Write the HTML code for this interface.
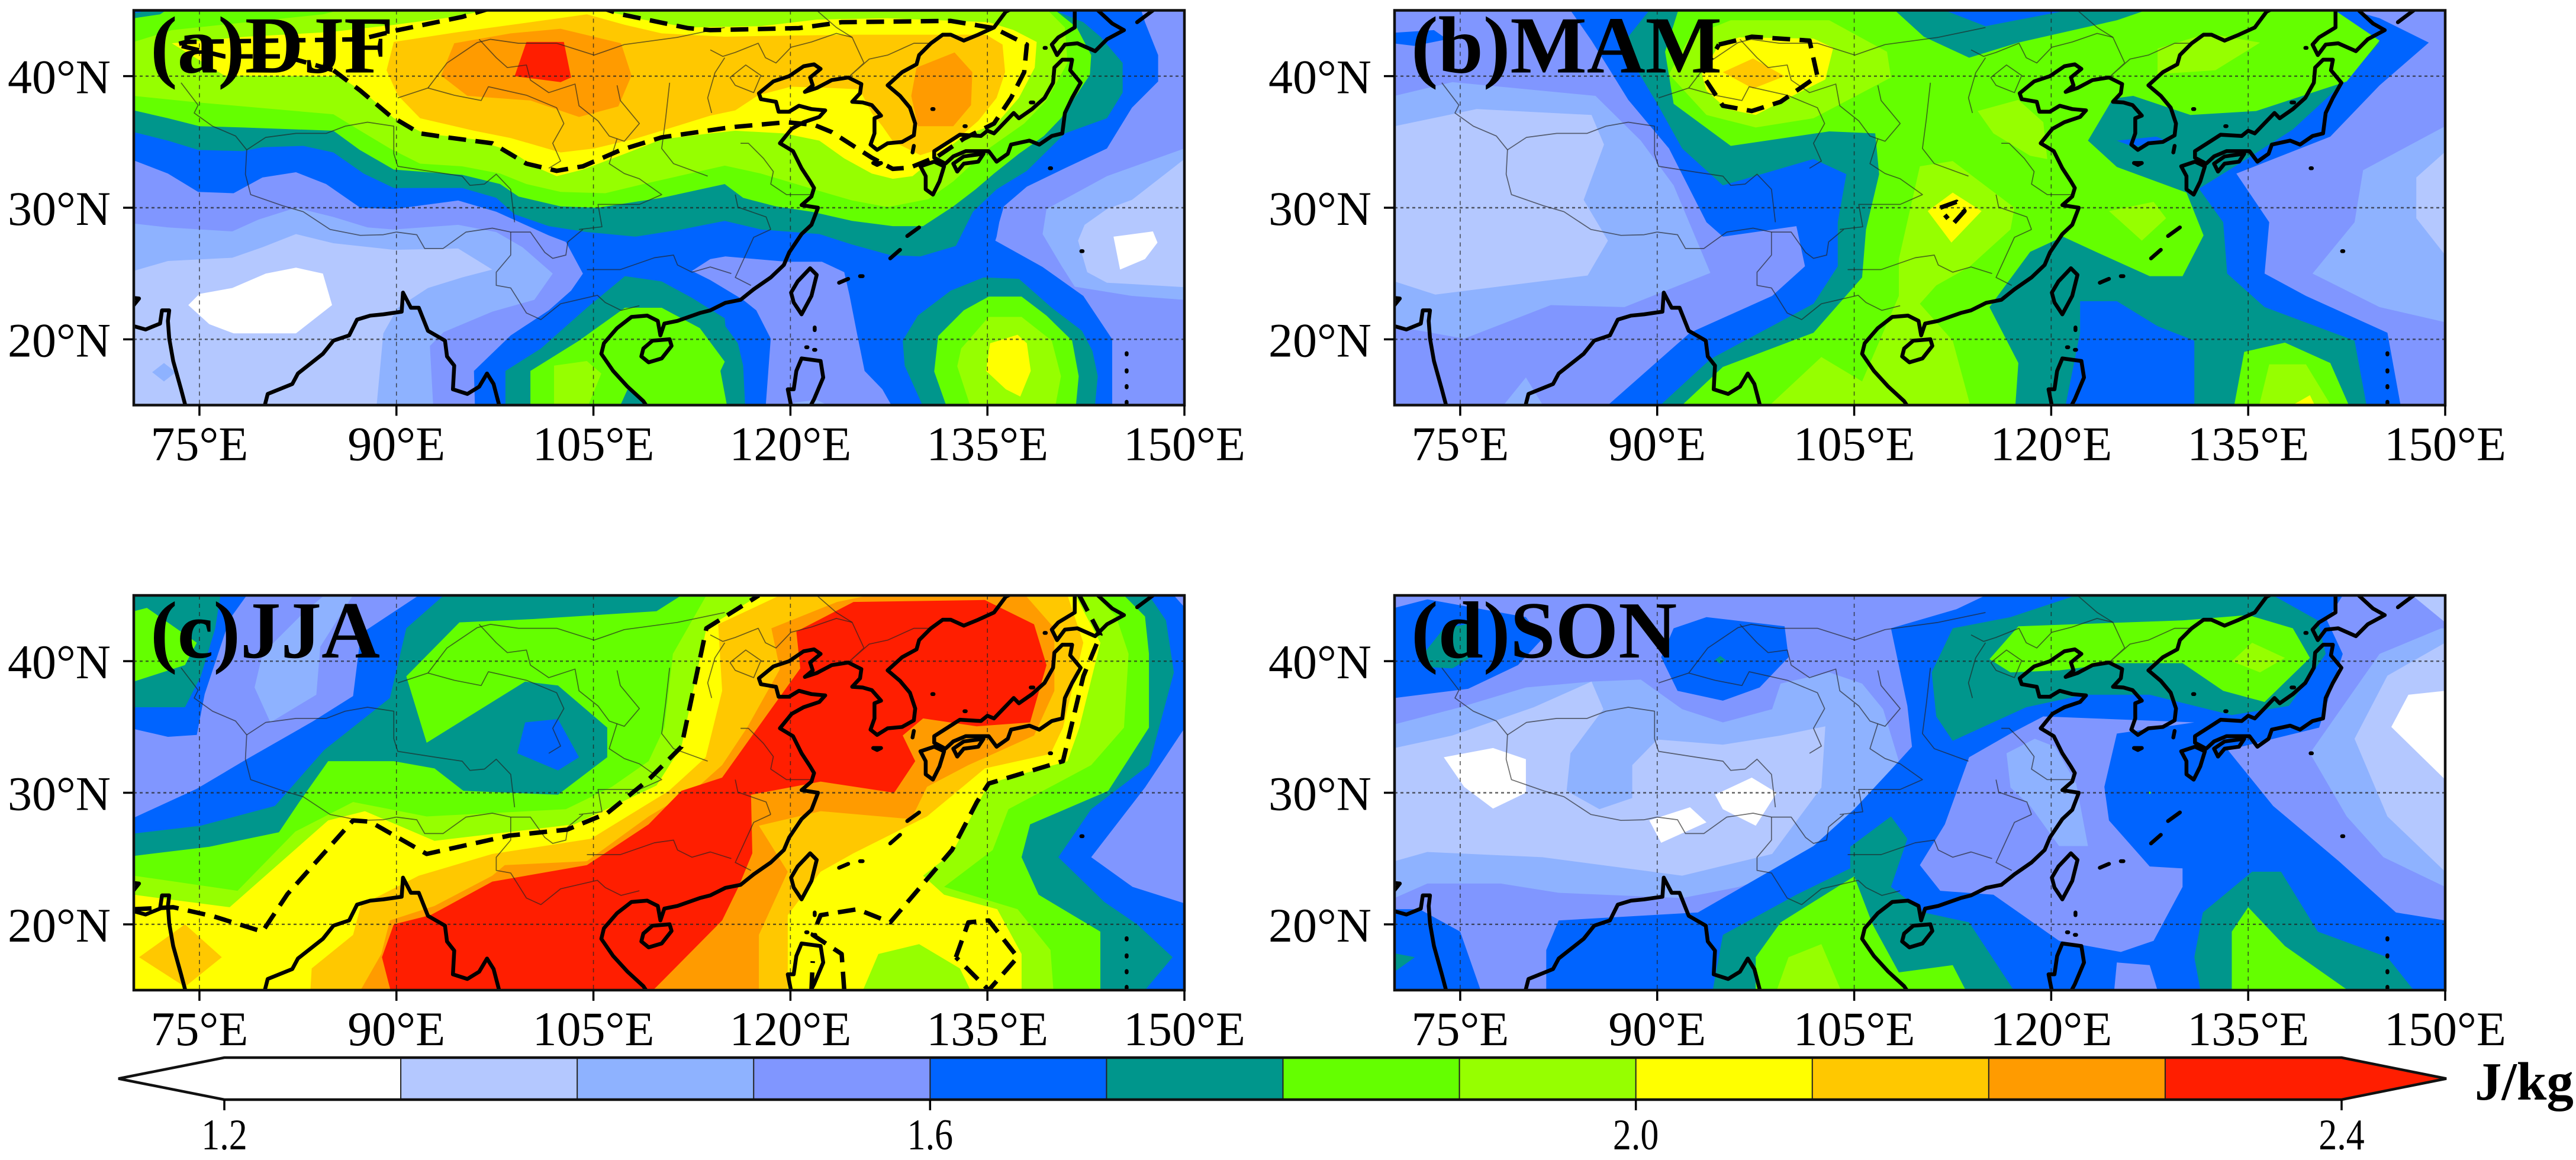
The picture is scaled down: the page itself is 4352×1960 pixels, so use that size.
<!DOCTYPE html>
<html lang="en">
<head>
<meta charset="utf-8">
<title>Seasonal J/kg maps</title>
<style>
html,body{margin:0;padding:0;background:#fff;}
svg{display:block;}
text{font-family:"Liberation Serif",serif;fill:#000;}
</style>
</head>
<body>
<svg id="figure" xmlns="http://www.w3.org/2000/svg" width="4352" height="1960" viewBox="0 0 4352 1960"></svg>
<script>
/* ---------- colour scale ---------- */
const levels = [1.2,1.3,1.4,1.5,1.6,1.7,1.8,1.9,2.0,2.1,2.2,2.3,2.4];
const bandColors = ['#ffffff','#b4c8ff','#8eb2ff','#8096ff','#0064ff','#00968c','#64ff00','#96ff00','#ffff00','#ffc800','#ff9b00','#ff1e00'];
const colorbarTicks = [1.2,1.6,2.0,2.4];
const lonTicks = [75,90,105,120,135,150];
const latTicks = [20,30,40];

/* ---------- shared geography, [lon,lat,...] ---------- */
const coastlines = [
 [137,45.2,136.4,44.9,135.5,43.7,134.3,43.15,133.2,42.7,132.2,43.15,131.6,43.15,130.7,42.5,129.8,41.6,129.6,40.9,128.5,40.3,127.4,39.3,128.35,38.5,129.1,37.6,129.5,36.4,129.4,35.5,128.5,35,127.4,34.9,126.6,34.4,126.1,34.8,126.4,35.65,126.4,36.8,126.9,37,126.2,37.8,125.5,38,124.7,38.05,125.3,38.7,125.4,39.4,124.4,39.9,123.15,39.7,122,39.1,121.1,38.8,121.7,39.3,121.5,39.9,122.3,40.55,121.8,40.9,121,40.75,119.9,40,118.7,39.6,117.6,38.7,117.75,38.25,118.9,38.05,119.1,37.3,119.9,37.3,120.65,37.75,121.6,37.5,122.65,37.4,122.2,36.9,121,36.5,120.1,36,119.2,34.9,120.2,34.3,120.85,33,121.5,32,121.8,31.5,121.6,30.85,120.85,30.2,122.1,30,121.6,28.7,120.85,28,119.9,26.6,119.5,25.65,118.5,24.7,117.2,23.8,116.2,23,115.05,22.77,113.9,22.2,113.1,22,111.4,21.4,110.4,21.2,110.1,20.3,109.9,21.4,109.1,21.8,107.9,21.7,106.8,20.85,105.8,19.7,105.6,18.9,106.5,17.6,107.6,16.4,108.8,15.3,109.2,14.7],
 [108.8,19.3,109.5,19.9,110.8,20,110.95,19.5,110.2,18.55,109.2,18.25,108.65,18.7,108.8,19.3],
 [69.5,23.2,70.4,23.1,70,22.6],
 [69.5,21,70,21,70.9,20.75,72,21.2,72.15,22.2,72.7,22.2,72.6,21.4,72.7,20.07,73,18.35,73.6,16.2,74,14.7],
 [79.9,14.7,80.2,15.85,82.07,16.6,82.5,17.4,84.4,18.9,85.2,19.9,86.4,20.3,87,21.5,88,21.8,89,21.9,90.4,22.1,90.5,23.55,91.1,22.4,91.7,22.4,92.4,20.65,93.7,19.9,93.85,18.7,94.4,18,94.3,16.2,95.4,15.85,96.3,16.4,96.9,17.4,97.4,16.6,97.9,14.7],
 [121.5,25.4,122,24.9,121.6,23.3,120.85,21.9,120.25,22.8,120.05,23.55,120.55,24.4,121.5,25.4],
 [120.1,14.7,119.8,16.2,120.25,16.2,120.45,17.6,120.85,18.55,122.3,18.35,122.5,17.1,121.8,15.45,121.4,14.7],
 [129.9,33.15,130.95,33.5,131.7,33.15,131.35,32,130.85,31,130.3,31.4,130.3,32.4,129.9,33.15],
 [130.95,34.3,132.2,35.1,132.9,35.55,134.5,35.45,135,35.85,135.5,35.65,137,37.2,137.4,36.8,138.4,37.5,139.35,38.35,140,39.5,140.1,40.65,140.7,41.25,141.45,41.25,141.3,40.45,142.1,39.5,141.45,38.35,140.9,37.2,140.7,35.65,139.9,35.45,138.95,34.8,138.2,35.1,136.8,34.8,136.55,34.1,135.7,33.5,135.1,34.3,133.35,34.3,132.4,33.9,131.8,33.35,130.95,33.8,130.95,34.3],
 [132.4,33.35,133.2,33.9,134.7,34.1,134.3,33.5,133.2,33.35,132.7,32.75,132.4,33.35],
 [141.65,45.2,141.65,43.7,140.4,42.95,139.9,42.4,140.3,41.6,140.9,42.4,141.85,42.5,143.2,41.9,144.1,42.8,145.4,43.5,144.5,44,143.2,45.2],
 [146.4,44.1,147.6,45],
 [127.6,26.15,128.35,26.8],[128.9,27.85,129.8,28.5],[123.7,24.3,124.4,24.6],[125.3,24.8,125.5,24.8],
 [126.3,33.4,126.9,33.4,126.6,33.25,126.3,33.4],[129.3,34.2,129.4,34.7],
 [130.8,37.5,130.9,37.5],[133.25,36.2,133.35,36.2],[138.3,38,138.5,38],[139.75,33,139.85,33],[142.15,26.7,142.25,26.7],[139.35,42.15,139.45,42.15],
 [121.85,20.9,121.85,20.7],[121.2,19.4,121.3,19.4],[121.8,19.2,121.9,19.2],
 [145.6,18.95,145.6,18.85],[145.6,17.65,145.6,17.55],[145.6,16.45,145.6,16.35],[145.6,15.25,145.6,15.15]
];
const provinceBorders = [
 [73.6,39.5,74.9,37.8,74.6,37.2,76,36.2,77.75,35.45,78.6,34.4,78.5,32.55,78.9,31,81.35,30.15,82.9,29.7,84.95,28.35,87.25,27.9,89,27.95,90,28.15,91.55,27.95,92.15,26.9,93.55,26.9,95.3,28.15,97.3,28.45,98.7,28.15,100.2,28.15,101.3,26.6,101.9,26.15,102.9,26.4,103.05,27.4,104.2,28.35],
 [78.6,34.4,80.05,35.35,82.35,35.65,84.65,35.65,86.1,36.2,87.8,36.5,89.8,36.2,89.8,34.1,90.1,33.15,93,32.7,95,32.4,95.6,31.7,96.7,31.8,97.6,32.55,98.7,31.4,99,28.9],
 [98.7,28.15,98.7,26.4,97.6,25.1,97.6,24.1,98.7,23.9,99.3,22.95,99.9,22,101,21.5,102.5,22.7,105.3,23.35,105.9,22.8,107.1,22.2,108.5,22.55],
 [90.1,38.35,92.4,39.1,93.85,41,96.15,42.55,97.15,42.8,99.3,42.5,102.2,42.5,105.05,41.6,107.35,42.4,111.4,42.95,115,43.7],
 [113.9,42,114.85,41.5,115.8,41.8,117.55,42.5,118.1,41.4,118.9,41,120.05,42.2,121.6,42.6,123.5,43.25,124.7,42.95,125.6,41,124.4,39.9,126,41.3,127.4,41.6,129.4,42.5,130.7,42.5],
 [122,45,123.5,43.7,124.7,42.95],
 [92.4,39.1,94.4,38.55,96.45,38.15,97,39.2,99.9,38.55,102.2,37.6,102.75,36.4,101.9,34.9,102.5,33.55,101.6,33],
 [96.3,42.8,97.6,41.4,98.45,40.65,99.9,40.85,100.2,39.7,101.6,38.75,103.6,39.4,103.9,37.75,105.35,36.6,106.2,35.45,107.35,35.05,108.5,36.4,107.05,38.15,106.8,39.3],
 [106.8,35.25,106.2,33.35,107.35,32.6,108.5,32.2,110.2,31,108.5,30.25,105.35,30.25,105.65,28.55,103.9,28.35],
 [110.8,39.5,110.5,36.8,110.2,34.5,111.1,33.35,113.7,32.4],
 [114,37.2,113.7,38.35,114.25,40.25,115,41.4],
 [104.5,25.3,107.05,25.3,109.65,26.2,111.1,26.4,111.4,25.65,112.5,25.1,113.9,25.5,115.5,25],
 [118.5,28.35,117.2,27.75,116.4,26,115.8,24.7,117,24.1],
 [115.8,31,116,30.05,118.15,29.3,118.5,28.35],
 [116.2,34.9,116.8,34.9,117.95,33.75,118.7,32.75,118.5,31.8,119.7,31,121.6,31],
 [115.4,39.9,116.6,40.85,117.75,40.05,117.2,38.75,115.8,39.3,115.4,39.9]
];

/* ---------- (a) DJF contour regions: [band, [lon,lat,...]] painted in order ---------- */
const djfContours = [
 [1,[69,14,151,14,151,46,69,46]],
 [2,[69,25,70,25.2,72.6,25.95,77.5,26.2,79.8,27,82.35,28,85.2,27.3,89.8,26.8,94.7,26.9,97.3,25.3,95,24.7,92.4,23.9,90.1,22.4,89,20.45,88.4,14,151,14,151,46,69,46]],
 [2,[71.4,17.5,72.3,18.2,73.2,17.5,72.3,16.8]],
 [3,[69,28.9,70,28.8,72.6,28.5,77.5,28.2,79.5,29.1,82.35,30,85.2,29.3,87.8,28.5,89.8,28.35,94.7,28.7,97.6,28.15,99.6,27,101.9,25,100.5,23,97.3,22.1,93.6,20.55,92.55,19.5,92.85,14,151,14,151,46,69,46]],
 [2,[151,35,150,34.5,144.1,32.4,139.5,29.9,139.2,28,140.6,25.65,141.65,24,146,23.3,150,23,151,23]],
 [1,[151,34,150,33.7,146,30.6,144.1,29.9,142.4,28.7,141.9,27.5,142.6,25.1,144.1,24.3,146,24.2,151,23.9]],
 [0,[144.6,27.8,147.6,28.2,147.95,27.35,147,26.1,145.1,25.3]],
 [0,[74.15,22.6,75,23.45,77.5,23.9,80.05,25,82.35,25.45,84.4,25,85.1,22.6,82.35,20.45,77.6,20.45,75.75,21.15]],
 [4,[69,33.8,70,33.6,72.6,32.6,74.9,31.2,77.6,31.1,79.8,32.3,82.35,32.7,84.65,31.8,87.25,30,89.8,29.9,94.7,30.55,97.6,29.7,101.6,27.9,102.9,27.4,104.2,25,103.3,23.7,101.6,22.2,98.7,20.3,95.9,17.6,96,14,144.5,14,144.5,20,142.3,23.3,139.2,25.5,135.6,27.5,135.7,27.8,135.9,28.9,136.25,30.1,138,31.6,140.9,33,144.1,34.5,146,37.6,148,39.6,148,41.6,147,44.1,146.4,46,69,46]],
 [3,[112.5,25.2,113.9,26.1,115.05,26.3,119.7,25.9,122.4,25.9,124.1,25.1,124.5,23.35,125.1,20.3,125.65,17.6,127,16.2,128.25,14,118.05,14,118.5,20.05,117.4,22.2,116.4,23,113.9,24.5]],
 [2,[120.2,14,120.3,15.2,122,15.4,122.8,15,123,14]],
 [5,[69,35.75,70,35.75,72.6,35.1,74.9,34.4,78.3,34.3,79.8,34.6,82.9,34.7,85.2,34.2,87.5,32.6,89.8,31.5,95,31.5,97.6,30.75,99,29.5,101.6,28.6,104.5,28.15,108.2,27.8,111.7,28.35,115,29,117.75,28.35,122.2,28,124.7,27.2,127.6,26.4,129.9,26.3,132.6,27.1,133.9,29.7,135.7,31.4,138,32.8,140.9,35.65,144.1,36.8,145.3,38.75,145.3,41,143.6,43,142.3,44.1,140.1,45,140,46,69,46]],
 [5,[98.3,14,98.3,17.6,101,19.3,104.5,22.4,107.4,24.8,110.2,24.4,112.5,23.15,115,21.6,115.05,21,116,19.7,116.4,18,116.6,14]],
 [5,[128.55,19.9,129.7,21.8,132.2,23.7,134.7,24.7,137.4,24.6,139.9,22.4,142.2,20.65,143,19.1,143.4,17.2,143.1,14,130.5,14,128.7,18]],
 [6,[69,37.4,70,37.4,72.6,36.8,75,36.2,78.3,36.1,85.2,35.85,87.2,34.4,89.8,32.9,95,32.5,97.9,31.8,99.3,30.85,102.5,30.1,105.3,30,108.2,30.45,110.2,30.75,115,31.8,116.4,30.75,118.9,30.1,121.6,29.7,124.7,29,127.8,28.6,130.1,28.6,132.4,30.1,134.1,31.4,135.5,32.6,137.4,34.1,139.3,35.45,140.6,36.8,142.8,40.1,142.9,41.6,141.8,43.7,140.3,44.9,139.8,45.5,139,46,69,46]],
 [5,[69,46,74,46,72,44.7,70,44.4,69,44.4]],
 [4,[69,46,72,46,70.5,44.85,69,44.7]],
 [6,[100.2,14,100.2,17.6,103.9,19.9,107.4,22.4,110.2,22.4,113.1,20.85,115,18.3,114.67,17.6,115.35,14]],
 [5,[106.6,14,107.6,16.2,109.1,15,109.5,14]],
 [7,[102,14,102,18,104.5,18.35,105.6,17.4,104.2,14]],
 [6,[130.95,17.55,131.25,20.25,133.2,22.2,135.1,23.25,137.6,23.25,139.5,21.8,141.45,19.9,141.95,17.2,141.65,14,132.2,14]],
 [7,[132.7,17.95,133,19.3,135.1,21.7,137.6,21.7,139.9,19.9,140.6,17.2,140,14,134,14]],
 [8,[134.9,17.6,135.2,19.7,137.3,20.35,138,19.7,138.3,17.6,137.5,15.65,136.4,16.2]],
 [7,[69,38.7,70,38.5,74.9,38,82.9,37.3,85.2,37.1,87.25,35.85,89.5,34.5,91.8,33.35,95,33.15,97.9,32.6,99.9,31.8,102.5,31.2,105.9,31.1,108.8,31.8,115,33.2,117.75,32.6,121.6,31.45,124.7,30.55,127.4,30.05,130.5,30.65,132.4,32,135.1,34.5,137.8,36.4,139.5,38.15,141.1,41,140.9,43.7,139.7,44.9,138.9,45.6,86,45.6,86,45.1,84.4,44.7,78.6,44.1,72.9,43.5,70,42.6,69,42.4]],
 [8,[72.9,42.5,78.6,43,84.9,43.35,89.8,43.9,94.4,44.5,97.3,45.1,105.3,45.1,108.8,44.3,112.2,43.7,117.75,43.8,122,44.3,127.4,44.4,135.1,44.1,137,43.5,138.75,42.6,138.6,40.65,137.4,38.35,135.7,36.4,133.2,35.45,131,33.8,129.3,32.4,127.8,32.2,126.2,32.6,124.1,33.75,122.2,35.1,119.5,35.65,115.8,35.85,113.9,35.65,110.2,35.2,107.4,34.1,104.2,32.9,102.2,32.4,100.5,33.15,98.7,34.3,95.9,35.2,92.1,35.65,89.8,36.8,87.8,38.55,85.5,40.1,84.9,40,76.9,40.05]],
 [9,[89.25,40.45,89.8,42.6,94.7,43.35,100.2,44.1,104.5,44.7,107.4,43.9,110.2,43.25,115,43,117.75,43.05,124.9,43.15,129.3,43.15,134.9,43.15,136.15,42.4,136.35,40.3,135.7,38.35,134.3,36.6,133.2,35.65,130.85,34.3,129.9,34,127.8,35.05,127,36.2,126.2,37.2,125.25,39,123.15,39.1,120.05,39.2,117.55,38.55,115.8,37.4,113.9,37,110.2,35.85,108.2,35.25,105.05,34.5,102.5,34.2,98.7,35.3,95.9,35.85,91.8,36.8,90.1,38.55]],
 [10,[93.4,40.05,94.4,42.5,98.7,43.25,102.5,43.6,107.1,42.5,107.9,40.05,106.9,37.7,103.9,36.9,100.2,38.15,95.4,38.5]],
 [10,[129.2,38.5,129.6,40.65,132.5,41.8,133.85,40.3,133.75,37.8,132.4,36.2,129.7,36.2]],
 [11,[99.9,42.6,102.75,42.6,103.3,39.9,102.5,39.55,99,40]]
];
const djfSignificance = [
 [85.2,40.45,87.25,38.9,89.5,37,91.8,35.65,93.85,35.35,97.3,34.9,99.9,33.35,102.2,32.8,104.2,33.15,107.1,34.4,110.2,35.35,115,36.05,115.8,36.15,119.7,36.5,121.8,36.3,123.15,35.75,126.2,33.8,127.8,32.95,129.1,33.05,131.2,33.9,133.2,35.25,135.5,36.4,136.8,38.35,137.8,40.3,138,42.4,135.5,43.65,132.2,44.2,123.9,44.1,120.65,43.65,113.9,43.5,112.2,43.65,107.1,44.7,105.6,45.2],
 [97.3,45.2,95,44.5,90.1,43.5,87.25,42.8,74,42.6,73.2,42.4,76.9,41.5,81.5,41.5,85.2,40.45]
];

/* ---------- (b) MAM ---------- */
const mamContours = [
 [3,[69,14,151,14,151,46,69,46]],
 [2,[69,38.3,70,38.5,74.4,39.55,85.3,38.5,88.75,35.1,91.25,31.7,94.05,25.05,87.5,22.45,81.9,22.6,75.3,20.05,70,21,69,21.2]],
 [1,[69,35.9,70,36.2,76.25,37.5,85,37.05,85.95,34.8,84.4,30.6,86.25,27.5,84.7,24.85,73.1,23.4,70,24.4,69,24.6]],
 [2,[77.5,14,80,17.1,81.9,14]],
 [2,[151,36.2,150,36.2,143.75,32.85,143.1,28.9,139.9,25,145,22.45,150,21.3,151,21.1]],
 [1,[151,34.25,150,34.25,147.8,32.3,147.8,29.2,150,26.4,151,26.4]],
 [4,[83.4,46,83.4,45,85,42.7,87.8,38.2,90.9,34.5,93.75,28.9,95,27.8,100.6,28.6,101.25,25.55,98.75,23.3,92.5,20.5,86.25,15,85.8,14,147,14,146.6,15,145.6,20.5,139.4,23.3,136.25,25,136.6,28.9,134.1,32.6,141.25,35.4,145,39.3,148.75,42.55,145,44.4,142.2,45.2,142,46]],
 [4,[69,43.2,70,43.3,73,43.5,74,42.8,71.5,42.3,69,42.6]],
 [5,[89.7,14.5,94.05,18.5,101.9,22.7,103.75,25.55,103.75,28.9,104.4,32.55,101.9,33.7,95,31.7,91.9,34.5,90,37.9,87.5,42.1,87.8,43,89.4,45,89.4,46,141,46,139.4,45,141.9,44.4,145,42.55,142.2,39.45,138.4,35.95,134.4,33.4,131.25,31.45,133.1,28.9,133.4,25,136.25,22.45,143.1,19.9,144.1,14.5]],
 [4,[111.9,46,111.9,45,115,43.8,121.25,45,121.25,46]],
 [4,[122.2,22.9,125,22.9,128.1,21,130.9,19.9,130.9,14,120.9,14,122.2,20.5]],
 [4,[125,35.1,128,35.4,129,35,126.2,34.65]],
 [6,[91.9,14,91.9,15,95,17.9,101.9,20.5,105.6,24.7,105.9,28.35,106.9,32.55,106.6,35.65,103.1,35.8,95.6,34.7,91.25,37.9,90.6,41.85,91.6,45,91.6,46,108.1,46,108.1,45,110.3,43,113.75,41.4,117.5,42.55,125,44.25,127.2,45,127.2,46,141.6,46,141.6,45,145,42.7,142.5,39.6,135.6,37.35,130.6,37.05,126.25,38.5,124.7,38.3,122.8,35.1,125,33.1,130.3,31.15,131.6,27.9,130,24.8,127.5,24.8,123.4,26.65,120.9,27.8,118.4,26.65,115.3,22.45,117.5,18.2,117.2,14]],
 [6,[133.75,14,134.7,19.05,137.8,19.75,141.25,18.2,143.1,14]],
 [7,[90.9,40.15,92.5,43,95.6,44.25,103.1,44.25,107.5,41.85,107.8,39.9,101.9,36.8,97.5,36.1,93.75,37.05]],
 [7,[108.4,26.1,110,33.15,112.5,33.55,117.2,30,116.9,28.35,113.75,25.5,111.25,24.1,110,22.7,112.5,19.9,114.1,14,97.5,14,102.5,18.65,105.6,16.8,108.4,23.3]],
 [7,[114.4,37.35,117.5,38.2,119.4,36.5,119.7,33.7,118.4,33.95,115.6,35.65]],
 [7,[128.1,42.1,131.9,43.25,135.9,42.55,132.5,40.45,128.1,40.15]],
 [7,[124.4,29.75,127.8,30.45,128.75,29.2,126.9,27.5]],
 [7,[135.6,14,136.6,18.1,139.4,18.1,141.9,14]],
 [8,[93.4,40.15,94.7,42.4,96.25,42.95,101.9,42.85,103.4,42.15,102.8,39.75,100.3,38.5,97.5,37.05,95.3,37.5,93.75,38.9]],
 [9,[95,40.3,97.3,41.35,99.7,40,97.3,39.05]],
 [8,[110.6,29.75,112.5,31.15,114.7,29.75,112.4,27.35]],
 [8,[137.5,14.5,139.7,15.75,140.3,14.5]]
];
const mamSignificance = [
 [94.7,42.4,97.2,43,101.6,42.7,102.2,40,99.4,38.05,97.2,37.35,95,37.75,93.4,40.15,94.7,42.4],
 [111.55,30,112.8,30.45,113.4,29.75,112.5,28.75,111.9,29.45]
];

/* ---------- (c) JJA ---------- */
const jjaContours = [
 [4,[69,14,151,14,151,46,69,46]],
 [3,[69,34.7,70,34.85,72.6,34.25,74.8,34.4,75.4,37.5,77.3,43.2,78.6,45,78.6,46,91.7,46,91.7,45,87.3,42.1,86.7,37.35,83.6,35.4,78.6,32.55,74.8,30.3,70,28.1,69,27.9]],
 [2,[84.5,45.5,84.5,45,82.9,43.65,79.8,40.55,79.2,38,80.4,35.35,83.9,37.45,84.2,41.1,87,45.5]],
 [3,[151,34.9,150,34.9,147,30.4,142.9,25.1,146.05,22.85,150,21.6,151,21.3]],
 [3,[149.2,46,149.2,45,150,44.1,151,44.1,151,46]],
 [5,[69,36.5,70,36.5,73.9,36.5,75.1,38.85,76.2,42.5,76.6,45,76.6,46,69,46]],
 [6,[69,43.6,70,43.8,71,44.05,74.8,41.4,73.9,39.7,70,38.45,69,38.2]],
 [5,[69,26.7,70,26.9,75.1,27.5,80.75,29,84.5,33.25,89.5,37.2,90.75,42.5,93.6,45,93.6,46,147.3,46,147.3,45,148.6,43.1,149.2,39.15,147.3,32.1,142.9,28.75,140.4,25.1,143.9,21.7,146.4,20,149.1,17.5,147,15,146.5,14,69,14]],
 [4,[99.2,33,99.8,35.35,102.3,35.6,103.9,32.7,102.3,31.7]],
 [6,[69,25,70,25.2,75.75,25.9,81.05,27,82.6,29.3,84.8,32.4,89.8,32.4,92.9,31.85,95.1,30.15,102.3,29.85,106.05,32.7,106.05,34.95,102.3,38.15,99.8,38.45,92.3,33.8,90.75,38.85,94.8,42.95,100.4,43.2,109.8,43.8,111.7,45,111.7,46,145.4,46,145.4,45,147,43.4,147.3,40.55,147.3,34.95,144.2,30.15,138.25,27.6,137.6,25.1,138.9,22.25,143.6,19.45,143.6,14,69,14]],
 [7,[69,23.9,70,23.7,77.9,22.55,82.3,27.05,86.7,29.3,92.3,28.2,102.9,28.75,106.4,30.45,109.2,32.4,110.4,34.95,111.05,40.55,113.6,45,113.6,46,143.2,46,143.2,45,144.8,43.4,145.75,40.55,145.4,34.95,142.9,32.1,136.6,28.75,135.4,25.65,131.7,22.85,137.3,21.15,139.8,18.05,140.1,14,69,14]],
 [8,[69,22.4,70,22.25,77.3,21.3,84.8,27.9,87.6,28.6,92.9,26.35,103.55,27.6,109.8,30.55,111.7,33.5,113.6,42.5,117.6,45,117.6,46,141.7,46,141.7,45,143.6,41.4,142,34.95,141.1,32.4,135.1,30.7,132.3,25.4,130.1,23.7,131.7,22.25,135.75,21.15,137.6,17.75,137.6,14,69,14]],
 [7,[125.1,14,126.7,17.75,129.8,18.5,132.9,16.65,134.2,14]],
 [9,[70.4,17.5,73.9,20,76.7,17.5,73.9,15.25]],
 [9,[83.45,14,83.45,15,83.55,16.65,86.7,19.2,87.3,21.45,91.7,23.7,97.3,25.35,104.8,26.5,110.75,30.15,113.55,32.7,114.8,37.75,114.5,42.8,119.2,45,119.2,46,141.1,46,141.1,45,142.3,41.4,140.75,34.95,139.8,32.95,134.8,31.85,130.4,28.2,124.8,25.4,122.3,24,119.8,20.7,119.8,14]],
 [10,[86.7,14,88.85,17.75,89.5,20.3,92.9,21.4,97.3,23.7,98.25,24.5,104.5,24.8,109.2,28.2,112.95,30.45,114.8,32.1,116.7,34.95,119.2,39.4,118.55,42.5,123.55,44.5,126,45,126,46,137.9,46,137.9,45,140.1,42.5,140.1,37.75,138.55,34.35,133.55,32.1,130.4,30.45,129.2,28,122.3,28.6,117.6,27.5,119.8,24,117.6,19.2,117.6,14]],
 [11,[89.8,14,88.9,17.5,89.8,20,92.6,20.7,97.3,23.25,104.5,24.5,109.2,27.6,111.7,30.15,114.8,31.15,117.3,34.65,120.75,39.45,120.45,42.25,124.8,44.5,134.8,44.65,138.55,42.8,139.5,39.7,138.25,35.35,134.2,35.05,130.1,35.65,128.55,34.35,129.5,32.4,127.9,30,122.3,30.85,117,29.85,117.1,25.4,116.05,22.85,114.8,20.3,109.8,15.25,108.5,14]]
];
const jjaSignificance = [
 [70,21.15,73,21.3,76.1,20.6,79.8,19.45,81.7,22.3,86.7,27.9,88,27.8,92.3,25.35,98.6,26.75,103,27.2,106.05,28.45,109.2,31,111.7,33.5,113.6,42.5,117.6,45],
 [142,45,143.6,42,142.3,38.85,140.75,32.4,135.1,30.7,134.2,29.3,132.3,25.65,127.6,20.15,125.1,21.15,122.3,20.7,121.7,19.2,123.9,17.75,124.1,15],
 [132.6,17.5,133.55,20.15,135.1,20.3,137.3,17.5,135.1,15,132.6,17.5],
 [121.6,15,121.7,17.2]
];

/* ---------- (d) SON ---------- */
const sonContours = [
 [3,[69,14,151,14,151,46,69,46]],
 [2,[69,35,70,35.2,75,36.5,80,38,85,38.45,88.75,38.6,91.9,36.35,95,35.35,98.75,36.35,99.4,38.3,103.1,39.15,105.6,38.3,107.2,36.35,108.4,32.4,105,28.2,101.9,24.8,96.25,22.85,91.9,22,82.5,22.4,78.1,23.1,72.5,23.1,70,22,69,21.8]],
 [1,[69,33,70,33.4,74.4,34.35,80.6,36.5,85,38.45,85.9,36.35,83.4,33,83.1,30.15,85.6,28.75,88.1,29.6,88.1,32.1,90,34.05,95,33.65,99.4,34.35,102.8,35.05,102.5,30.4,98.75,25.35,97.5,25.05,91.9,23.7,81.25,25.1,72.5,25.5,70,24.8,69,24.8]],
 [0,[73.75,32.7,77.5,33.4,80,32.55,80,30,77.5,28.8,75.3,30.45]],
 [0,[94.4,29.85,97.2,31.15,99.1,30,97.5,27.5,95,28.75]],
 [0,[89.4,27.9,92.5,28.9,93.75,27.75,90.3,26.2]],
 [4,[69,44.2,70,44.05,72.5,44.7,77.5,43.8,80,43.35,81.25,41.7,79.4,39.7,75.6,37.9,70,37.2,69,37.2]],
 [5,[72.2,40.55,73.75,42.5,76.25,42.95,76.25,40.55,74.4,39.45,72.5,39.55]],
 [4,[90.3,40.3,91.25,42.5,93.75,43.35,99.7,42.65,100,40.3,97.8,38,95,37,91.55,37.75]],
 [5,[94.4,40.1,94.8,40.4,95.2,40.1,94.8,39.8]],
 [4,[107.8,42.5,109.05,36.6,109.4,33.5,108.4,32.4,105,28.75,101.9,25.95,93.1,20.9,82.5,20.3,81.55,18.05,81.55,14,151,14,151,15.6,150,15.5,150,20.3,146.25,20.9,141.9,24.8,136.9,29,133.45,33.25,140.4,34.95,142.2,40.55,141,43.1,142.2,45,142.2,46,115,46,115,45,112.8,43.95]],
 [4,[69,21.15,70,21.15,71.9,21.15,75,19.45,76.9,14,69,14]],
 [5,[69,17.9,70,17.8,71.55,17.5,70,16.4,69,16.4]],
 [3,[113.75,32.7,116.9,34.5,119.4,35.8,130.9,35.35,125,34.5,124.05,30.45,124.4,27.9,127.5,24.4,130,24.25,130,22.85,127.8,18.75,125.3,17.9,120.6,18.75,115.6,22.25,111.55,22.55,110,24.5,111.9,27.6]],
 [3,[124.7,14,125,17.1,127.5,16.9,128.4,14]],
 [2,[116.6,33,118.75,34.1,120.3,33.5,121.9,30.7,122.8,25.95,120.6,25.95,118.4,29,116.9,30.4]],
 [2,[151,42.5,149.7,42.5,145,40.55,139.7,33,142.5,28.2,145.3,25.1,150,22.85,151,22.6]],
 [1,[151,41.4,150,41.4,145.6,38.9,143.1,34.1,145.6,28.2,150,24,151,23.8]],
 [0,[147.2,37.45,150,37.75,151,37.75,151,31,150,31,145.9,35]],
 [1,[147.5,46,147.5,45,150,42.95,151,42.95,151,46]],
 [5,[112.5,33.95,111.25,35.8,110.9,39.15,112.5,42.5,116.9,43.35,121.9,45,121.9,46,136.9,46,136.9,45,140.3,43.1,140.9,40.55,138.1,36.6,133.75,35.9,127.5,37.45,122.5,37.45,118.1,36.5]],
 [6,[115.3,40.15,117.5,42.65,130,43.1,135,43.5,138.4,42.5,139.7,40.25,136.25,36.9,133.1,37.75,130,39.85,125,39.85,120.6,39.3,116.9,39.15]],
 [7,[133.75,40,135.3,41.4,137.8,40.25,135.9,39.15]],
 [5,[94.05,14,95,19.2,100.6,22.25,104.7,24.25,104.7,25.9,107.8,28.2,109.05,26.5,107.8,22.85,110.3,20.9,113.75,20.15,117.8,14]],
 [5,[131.55,14,130.9,17.5,131.55,20.9,135.3,24,137.5,24,140.3,19.45,145.6,17.5,148.4,14]],
 [6,[97.5,14,97.5,17.5,99.4,20.15,105,23.65,106.4,20,108.4,16.35,112.5,16.9,114,14]],
 [7,[98.75,14,100,17.5,102.5,18.5,104.4,14]],
 [6,[133.75,14,133.75,19.45,135,21.3,137.8,18.35,144,14]],
 [6,[127.4,30,127.5,30.1,127.6,30,127.5,29.9]]
];
const sonSignificance = [];

const panelNames = ['djf','mam','jja','son'];
const panelTitles = ['(a)DJF','(b)MAM','(c)JJA','(d)SON'];
const contourSets = [djfContours, mamContours, jjaContours, sonContours];
const significanceSets = [djfSignificance, mamSignificance, jjaSignificance, sonSignificance];
const lonDomain = [70,150];
const latDomain = [15,45];

const NS = 'http://www.w3.org/2000/svg';
const root = document.getElementById('figure');
const PANEL_W = 1775, PANEL_H = 667;
const panelOrigins = [[226,17.5],[2356,17.5],[226,1006],[2356,1006]];

function make(tag, attrs, parent){
  const el = document.createElementNS(NS, tag);
  for (const k in attrs) el.setAttribute(k, attrs[k]);
  (parent || root).appendChild(el);
  return el;
}
function xScale(o, lon){ return o[0] + (lon - lonDomain[0]) / (lonDomain[1] - lonDomain[0]) * PANEL_W; }
function yScale(o, lat){ return o[1] + PANEL_H - (lat - latDomain[0]) / (latDomain[1] - latDomain[0]) * PANEL_H; }
function pointsOf(o, flat){
  const out = [];
  for (let i = 0; i < flat.length; i += 2) out.push(xScale(o, flat[i]).toFixed(1) + ',' + yScale(o, flat[i+1]).toFixed(1));
  return out.join(' ');
}

const defs = make('defs', {});

panelNames.forEach(function(name, idx){
  const o = panelOrigins[idx];
  const group = make('g', {});
  
  

  const clip = make('clipPath', {id: 'clip-' + name}, defs);
  make('rect', {x: o[0], y: o[1], width: PANEL_W, height: PANEL_H}, clip);
  const inner = make('g', {'clip-path': 'url(#clip-' + name + ')'}, group);

  contourSets[idx].forEach(function(region){
    const poly = make('polygon', {points: pointsOf(o, region[1]), fill: bandColors[region[0]]}, inner);
    
    
  });

  lonTicks.slice(0, 5).forEach(function(lon){
    const line = make('line', {x1: xScale(o, lon), x2: xScale(o, lon), y1: o[1], y2: o[1] + PANEL_H, stroke: '#222', 'stroke-width': 1.6, 'stroke-dasharray': '7 7', opacity: 0.75}, inner);
    
    
  });
  latTicks.forEach(function(lat){
    const line = make('line', {x1: o[0], x2: o[0] + PANEL_W, y1: yScale(o, lat), y2: yScale(o, lat), stroke: '#222', 'stroke-width': 2.4, 'stroke-dasharray': '5 5', opacity: 0.7}, inner);
    
    
  });

  provinceBorders.forEach(function(b){
    const line = make('polyline', {points: pointsOf(o, b), fill: 'none', stroke: '#222', 'stroke-width': 1.7, opacity: 0.65, 'stroke-linejoin': 'round'}, inner);
    
    
  });
  coastlines.forEach(function(c){
    const line = make('polyline', {points: pointsOf(o, c), fill: 'none', stroke: '#000', 'stroke-width': 6.5, 'stroke-linejoin': 'round', 'stroke-linecap': 'round'}, inner);
    
    
  });
  significanceSets[idx].forEach(function(s){
    const line = make('polyline', {points: pointsOf(o, s), fill: 'none', stroke: '#000', 'stroke-width': 7.5, 'stroke-dasharray': '30 16', 'stroke-linejoin': 'round'}, inner);
    
    
  });

  const title = make('text', {x: o[0] + 28, y: o[1] + 105, 'font-size': 137, 'font-weight': 'bold'}, group);
  title.textContent = panelTitles[idx];
  
  

  const frame = make('rect', {x: o[0], y: o[1], width: PANEL_W, height: PANEL_H, fill: 'none', stroke: '#111', 'stroke-width': 4.5}, group);
  
  

  lonTicks.forEach(function(lon){
    const x = xScale(o, lon);
    const tick = make('line', {x1: x, x2: x, y1: o[1] + PANEL_H, y2: o[1] + PANEL_H + 18, stroke: '#000', 'stroke-width': 3.5}, group);
    
    
    const label = make('text', {x: x, y: o[1] + PANEL_H + 93, 'font-size': 82, 'text-anchor': 'middle'}, group);
    label.textContent = lon + '°E';
    
    
  });
  latTicks.forEach(function(lat){
    const y = yScale(o, lat);
    const tick = make('line', {x1: o[0] - 18, x2: o[0], y1: y, y2: y, stroke: '#000', 'stroke-width': 3.5}, group);
    
    
    const label = make('text', {x: o[0] - 39, y: y + 29, 'font-size': 82, 'text-anchor': 'end'}, group);
    label.textContent = lat + '°N';
    
    
  });
});

/* ---------- colour bar ---------- */
const CB_L = 379, CB_R = 3956, CB_T = 1787, CB_B = 1858, TIP_L = 200, TIP_R = 4133;
function cbX(v){ return CB_L + (v - levels[0]) / (levels[levels.length-1] - levels[0]) * (CB_R - CB_L); }
const cbGroup = make('g', {});


const cbMid = (CB_T + CB_B) / 2;

const tipLeft = make('polygon', {points: TIP_L+','+cbMid+' '+CB_L+','+CB_T+' '+CB_L+','+CB_B, fill: bandColors[0]}, cbGroup);


const tipRight = make('polygon', {points: TIP_R+','+cbMid+' '+CB_R+','+CB_T+' '+CB_R+','+CB_B, fill: bandColors[11]}, cbGroup);



bandColors.forEach(function(color, i){
  const cell = make('rect', {x: cbX(levels[i]), y: CB_T, width: cbX(levels[i+1]) - cbX(levels[i]), height: CB_B - CB_T, fill: color}, cbGroup);
  
  
});
levels.slice(1, -1).forEach(function(v){
  const sep = make('line', {x1: cbX(v), x2: cbX(v), y1: CB_T, y2: CB_B, stroke: '#222', 'stroke-width': 2}, cbGroup);
  
  
});
const cbOutline = make('polygon', {points: TIP_L+','+cbMid+' '+CB_L+','+CB_T+' '+CB_R+','+CB_T+' '+TIP_R+','+cbMid+' '+CB_R+','+CB_B+' '+CB_L+','+CB_B, fill: 'none', stroke: '#111', 'stroke-width': 4.5, 'stroke-linejoin': 'miter'}, cbGroup);



colorbarTicks.forEach(function(v){
  const x = cbX(v);
  const tick = make('line', {x1: x, x2: x, y1: CB_B, y2: CB_B + 18, stroke: '#000', 'stroke-width': 3.5}, cbGroup);
  
  
  const label = make('text', {'font-size': 62, 'text-anchor': 'middle', transform: 'translate(' + x + ',1942) scale(1,1.2)'}, cbGroup);
  label.textContent = v.toFixed(1);
  
  
});
const unit = make('text', {x: 4181, y: 1858, 'font-size': 91, 'font-weight': 'bold'}, cbGroup);
unit.textContent = 'J/kg';


</script>
</body>
</html>
